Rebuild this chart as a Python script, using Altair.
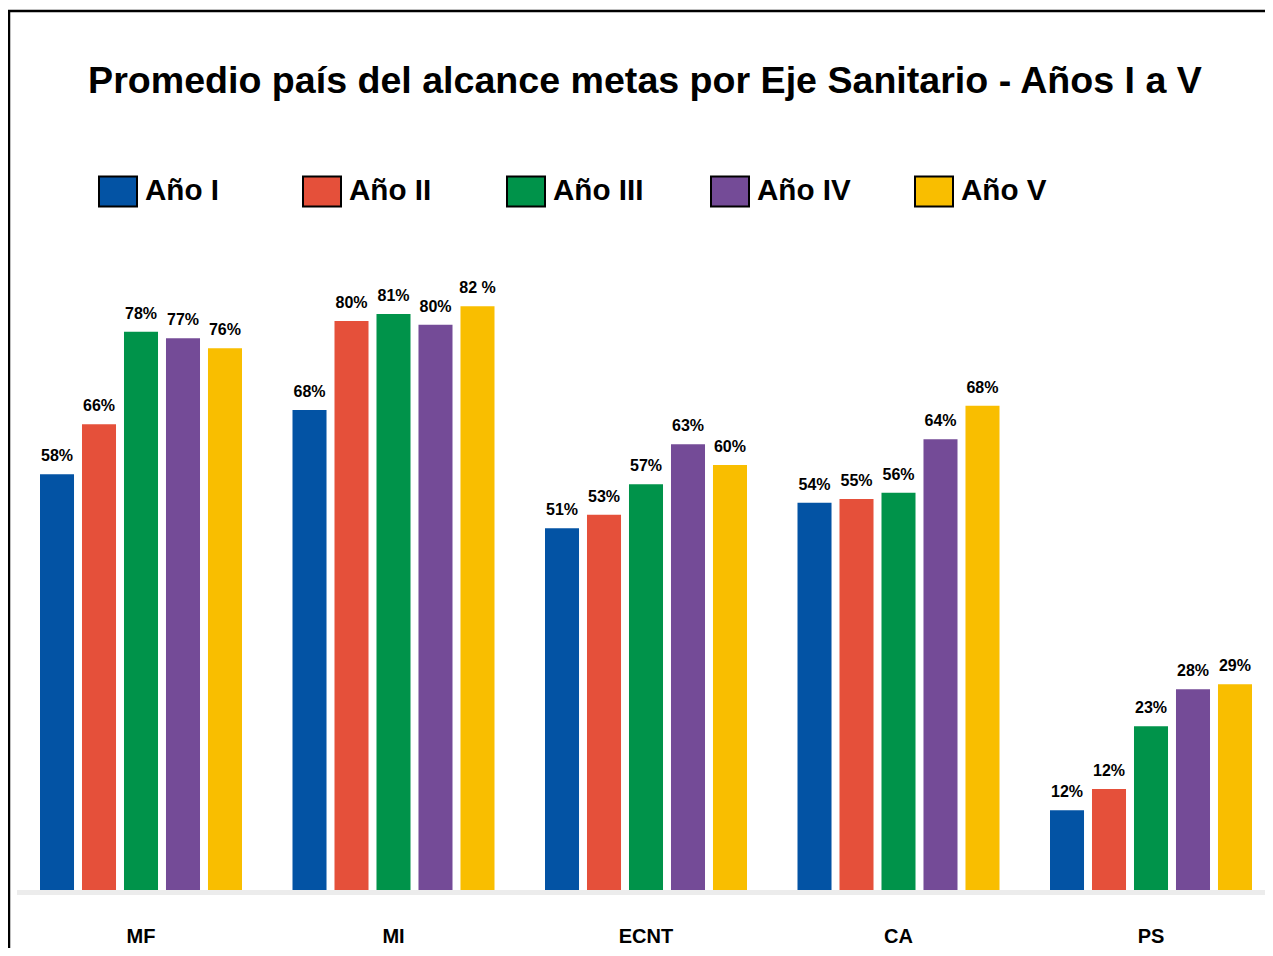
import altair as alt
import pandas as pd

categorias = ["MF", "MI", "ECNT", "CA", "PS"]
anios = ["Año I", "Año II", "Año III", "Año IV", "Año V"]
colores = ["#0353A4", "#E5503A", "#00934A", "#744B97", "#F9BE00"]

valores_I = [58.4, 67.4, 50.8, 54.4, 11.2]
valores_II = [65.4, 79.9, 52.7, 54.9, 14.2]
valores_III = [78.4, 80.9, 57.0, 55.8, 23.0]
valores_IV = [77.5, 79.4, 62.6, 63.3, 28.2]
valores_V = [76.1, 82.0, 59.7, 68.0, 28.9]

etiquetas_I = ["58%", "68%", "51%", "54%", "12%"]
etiquetas_II = ["66%", "80%", "53%", "55%", "12%"]
etiquetas_III = ["78%", "81%", "57%", "56%", "23%"]
etiquetas_IV = ["77%", "80%", "63%", "64%", "28%"]
etiquetas_V = ["76%", "82 %", "60%", "68%", "29%"]

titulo = "Promedio país del alcance metas por Eje Sanitario - Años I a V"

series = [valores_I, valores_II, valores_III, valores_IV, valores_V]
etiquetas = [etiquetas_I, etiquetas_II, etiquetas_III, etiquetas_IV, etiquetas_V]

rows = []
for a, vals, labs in zip(anios, series, etiquetas):
    for c, v, l in zip(categorias, vals, labs):
        rows.append({"cat": c, "anio": a, "valor": v, "etiqueta": l})
df = pd.DataFrame(rows)

FONT = "Liberation Sans"
W, H = 1248, 712

x_enc = alt.X(
    "cat:N",
    sort=categorias,
    scale=alt.Scale(range=[-2.25, 1260.25], paddingInner=0.2, paddingOuter=0.1),
    axis=alt.Axis(
        title=None, domain=False, ticks=False, tickSize=0, grid=False,
        labelFont=FONT, labelFontSize=20, labelFontWeight="bold",
        labelColor="black", labelPadding=52, labelBaseline="alphabetic",
        labelAngle=0,
    ),
)
xo_enc = alt.XOffset("anio:N", sort=anios, scale=alt.Scale(paddingInner=0.19, paddingOuter=0))
y_enc = alt.Y("valor:Q", scale=alt.Scale(domain=[0, 100]), axis=None)

rect_path = "M-1,-0.79L1,-0.79L1,0.79L-1,0.79Z"

bars = alt.Chart(df).mark_bar().encode(
    x=x_enc,
    xOffset=xo_enc,
    y=y_enc,
    color=alt.Color(
        "anio:N",
        sort=anios,
        scale=alt.Scale(domain=anios, range=colores),
        legend=alt.Legend(
            orient="none", legendX=81, legendY=-7, direction="horizontal",
            columns=5, gridAlign="all", title=None, padding=0,
            symbolType=rect_path, symbolSize=1444, symbolStrokeColor="black",
            symbolStrokeWidth=2, symbolOpacity=1,
            labelFont=FONT, labelFontSize=29.6, labelFontWeight="bold",
            labelColor="black", labelOffset=7, columnPadding=60, labelLimit=300,
        ),
    ),
)

texts = alt.Chart(df).mark_text(
    font=FONT, fontSize=16, fontWeight="bold", baseline="alphabetic",
    dy=-13, color="black",
).encode(x=x_enc, xOffset=xo_enc, y=y_enc, text="etiqueta:N")

one = alt.Data(values=[{"k": 1}])
title_mark = alt.Chart(one).mark_text(
    font=FONT, fontSize=37.6, fontWeight="bold", baseline="alphabetic",
    align="center", color="black",
).encode(x=alt.value(W / 2 + 4), y=alt.value(-85), text=alt.value(titulo))

base_band = alt.Chart(one).mark_rule(color="#ececec", strokeWidth=5).encode(
    x=alt.value(0), x2=alt.value(1249), y=alt.value(714.5)
)
border = alt.Chart(one).mark_rect(filled=False, stroke="black", strokeWidth=2.5).encode(
    x=alt.value(-8), x2=alt.value(1400), y=alt.value(-167), y2=alt.value(1000)
)

chart = alt.layer(base_band, bars, texts, title_mark, border).properties(
    width=W, height=H,
    autosize=alt.AutoSizeParams(type="none"),
    padding={"left": 9, "top": 170, "right": 0, "bottom": 58},
    background="white",
).configure_view(strokeWidth=0)

chart.save("out.html", embed_options={"renderer": "svg", "actions": False})
